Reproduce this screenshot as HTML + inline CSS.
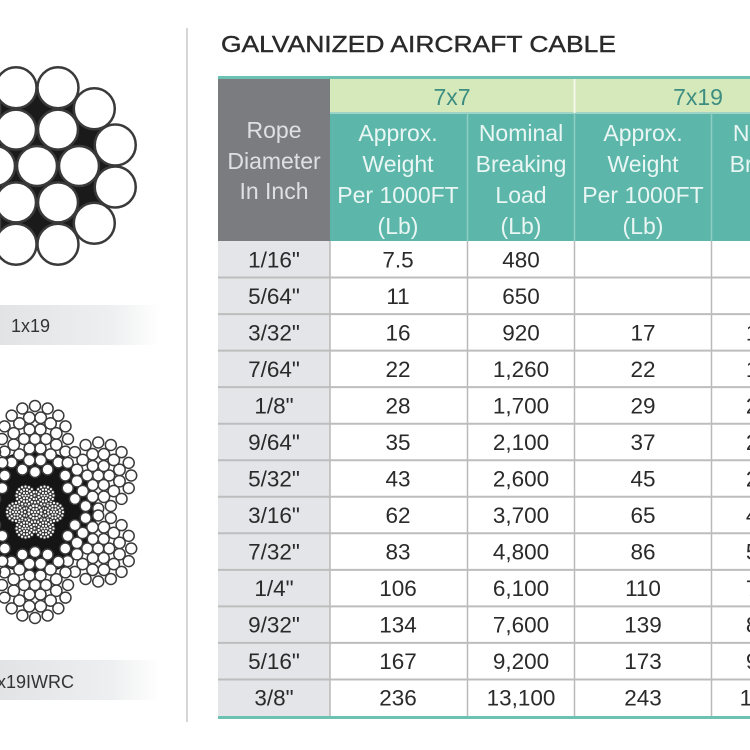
<!DOCTYPE html>
<html><head><meta charset="utf-8"><style>
html,body{margin:0;padding:0;background:#fff;width:750px;height:750px;overflow:hidden}
svg{display:block}
text{font-family:"Liberation Sans",Arial,sans-serif}
</style></head><body>
<svg id="s" width="750" height="750" viewBox="0 0 750 750" xmlns="http://www.w3.org/2000/svg">
<defs>
<linearGradient id="bar" x1="0" x2="1" y1="0" y2="0">
<stop offset="0" stop-color="#e2e3e5"/><stop offset="0.7" stop-color="#eeeff0"/><stop offset="1" stop-color="#ffffff"/>
</linearGradient>
</defs>
<rect width="750" height="750" fill="#fff"/>
<line x1="187" y1="28" x2="187" y2="722" stroke="#c8c8c8" stroke-width="1.5"/>
<g id="g1"></g>
<rect x="0" y="305" width="160" height="40" fill="url(#bar)"/>
<text x="11" y="332" font-size="18" fill="#333">1x19</text>
<g id="g2"></g>
<rect x="0" y="660" width="160" height="40" fill="url(#bar)"/>
<text x="-13" y="688" font-size="18" fill="#333">6x19IWRC</text>

<text x="221" y="52" font-size="23.5" fill="#2a2a2a" stroke="#2a2a2a" stroke-width="0.4" textLength="395" lengthAdjust="spacingAndGlyphs">GALVANIZED AIRCRAFT CABLE</text>

<rect x="218" y="76" width="532" height="3" fill="#6cc1b2"/>
<rect x="218" y="79" width="112" height="162" fill="#7b7c80"/>
<rect x="330" y="79" width="420" height="34" fill="#d6e9bb"/>
<rect x="330" y="113" width="420" height="128" fill="#5cb7aa"/>
<rect x="330" y="112" width="420" height="2" fill="#9fd3c6"/>
<line x1="574.5" y1="79" x2="574.5" y2="113" stroke="#f4f8ea" stroke-width="2"/>
<g stroke="#8fcfc3" stroke-width="1.5">
<line x1="467.5" y1="113" x2="467.5" y2="241"/>
<line x1="574.5" y1="113" x2="574.5" y2="241"/>
<line x1="711.5" y1="113" x2="711.5" y2="241"/>
</g>
<text x="452" y="105" font-size="23" fill="#3d8e80" text-anchor="middle">7x7</text>
<text x="698" y="105" font-size="23" fill="#3d8e80" text-anchor="middle">7x19</text>
<g font-size="23" fill="#dfe0e2" text-anchor="middle">
<text x="274" y="138">Rope</text>
<text x="274" y="169">Diameter</text>
<text x="274" y="199">In Inch</text>
</g>
<g font-size="23" fill="#e9f6f3" text-anchor="middle">
<text x="398" y="141">Approx.</text><text x="398" y="172">Weight</text><text x="398" y="203">Per 1000FT</text><text x="398" y="234">(Lb)</text>
<text x="521" y="141">Nominal</text><text x="521" y="172">Breaking</text><text x="521" y="203">Load</text><text x="521" y="234">(Lb)</text>
<text x="643" y="141">Approx.</text><text x="643" y="172">Weight</text><text x="643" y="203">Per 1000FT</text><text x="643" y="234">(Lb)</text>
<text x="775" y="141">Nominal</text><text x="775" y="172">Breaking</text><text x="775" y="203">Load</text><text x="775" y="234">(Lb)</text>
</g>
<rect x="218" y="241" width="112" height="476" fill="#e3e5e9"/>
<g id="rows"></g>
<rect x="218" y="716" width="532" height="3" fill="#6cc1b2"/>
</svg>
<script>
var NS="http://www.w3.org/2000/svg";
function el(p,t,a,txt){var e=document.createElementNS(NS,t);for(var k in a)e.setAttribute(k,a[k]);if(txt!==undefined)e.textContent=txt;p.appendChild(e);return e;}
var g1=document.getElementById('g1');
var cx=37,cy=166;
el(g1,'circle',{cx:cx,cy:cy,r:80,fill:'#1a1a1a'});
function wire(g,x,y,r,sw){el(g,'circle',{cx:x,cy:y,r:r,fill:'#fff',stroke:'#3a3a3a','stroke-width':sw});}
wire(g1,cx,cy,20,2.5);
for(var i=0;i<6;i++){var a=i*Math.PI/3;wire(g1,cx+42*Math.cos(a),cy+42*Math.sin(a),20,2.5);}
for(var i=0;i<12;i++){var a=i*Math.PI/6+Math.PI/12;wire(g1,cx+81*Math.cos(a),cy+81*Math.sin(a),20.5,2.5);}
var g2=document.getElementById('g2');
var c2x=35,c2y=512;
el(g2,'circle',{cx:c2x,cy:c2y,r:62,fill:'#151515'});
function strand(g,x,y,scale,sw){
  wire(g,x,y,5*scale,sw);
  for(var i=0;i<6;i++){var a=i*Math.PI/3;wire(g,x+10*scale*Math.cos(a),y+10*scale*Math.sin(a),5*scale,sw);}
  for(var i=0;i<12;i++){var a=i*Math.PI/6+Math.PI/12;wire(g,x+20*scale*Math.cos(a),y+20*scale*Math.sin(a),5.2*scale,sw);}
  for(var i=0;i<16;i++){var a=i*Math.PI/8;wire(g,x+30*scale*Math.cos(a),y+30*scale*Math.sin(a),5*scale,sw);}
}
var angs=[-90,-30,30,90,150,210];
for(var k=0;k<6;k++){var a=angs[k]*Math.PI/180;strand(g2,c2x+73*Math.cos(a),c2y+73*Math.sin(a),1.1,1.5);}
strand(g2,c2x,c2y,0.32,0.8);
for(var k=0;k<6;k++){var a=(angs[k]+30)*Math.PI/180;strand(g2,c2x+19*Math.cos(a),c2y+19*Math.sin(a),0.3,0.8);}
var data=[["1/16\"","7.5","480","",""],["5/64\"","11","650","",""],["3/32\"","16","920","17","1,000"],["7/64\"","22","1,260","22","1,400"],["1/8\"","28","1,700","29","2,000"],["9/64\"","35","2,100","37","2,500"],["5/32\"","43","2,600","45","2,800"],["3/16\"","62","3,700","65","4,200"],["7/32\"","83","4,800","86","5,600"],["1/4\"","106","6,100","110","7,000"],["9/32\"","134","7,600","139","8,000"],["5/16\"","167","9,200","173","9,800"],["3/8\"","236","13,100","243","14,400"]];
var R=document.getElementById('rows');
var xs=[274,398,521,643,774];
var h=(716-241)/13;
for(var c of [330,467.5,574.5,711.5]) el(R,'line',{x1:c,y1:241,x2:c,y2:716,stroke:'#b9b9b9','stroke-width':1.5});
for(var i=0;i<13;i++){
  var y0=241+i*h;
  if(i>0) el(R,'line',{x1:218,y1:y0,x2:750,y2:y0,stroke:'#bdbdbd','stroke-width':2});
  for(var j=0;j<5;j++) if(data[i][j]) el(R,'text',{x:xs[j],y:y0+h/2+8,'font-size':22.5,fill:'#2a2a2a','text-anchor':'middle'},data[i][j]);
}
</script>
</body></html>
